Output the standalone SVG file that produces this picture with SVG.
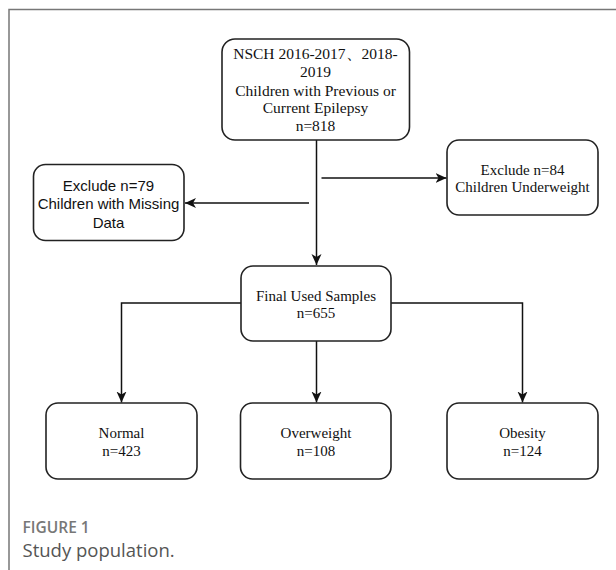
<svg xmlns="http://www.w3.org/2000/svg" width="616" height="570" viewBox="0 0 616 570">
<style>
.box{fill:#fff;stroke:#222;stroke-width:1.6}
.serif{font-family:"Liberation Serif","Times New Roman",serif;font-size:15px;fill:#111;text-anchor:middle}
.sans{font-family:"Liberation Sans",Arial,sans-serif;font-size:15px;fill:#111;text-anchor:middle}
.edge{fill:none;stroke:#111;stroke-width:1.5}
.frame{fill:none;stroke:#777;stroke-width:1.5}
</style>
<defs>
<marker id="arr" markerUnits="userSpaceOnUse" markerWidth="13" markerHeight="11" refX="11" refY="5" orient="auto">
<path d="M0,0 L11,5 L0,10 L3,5 z" fill="#111"/>
</marker>
</defs>
<path class="frame" d="M9,570 L9,9.5 L616,9.5"/>
<g id="connectors">
<line class="edge" x1="316.5" y1="140" x2="316.5" y2="265" marker-end="url(#arr)"/>
<line class="edge" x1="309" y1="203" x2="185" y2="203" marker-end="url(#arr)"/>
<line class="edge" x1="321.5" y1="178" x2="446.5" y2="178" marker-end="url(#arr)"/>
<polyline class="edge" points="241,303 121.5,303 121.5,402.5" marker-end="url(#arr)"/>
<polyline class="edge" points="391,303 522.5,303 522.5,402.5" marker-end="url(#arr)"/>
<line class="edge" x1="316.5" y1="341" x2="316.5" y2="402.5" marker-end="url(#arr)"/>
</g>
<g id="n_source">
<rect class="box" x="222" y="39" width="187.5" height="101" rx="13"/>
<text class="serif" style="font-size:15.5px" x="315.5" y="59">NSCH 2016-2017、2018-</text>
<text class="serif" style="font-size:15.5px" x="315.5" y="77">2019</text>
<text class="serif" style="font-size:15.5px" x="315.5" y="96">Children with Previous or</text>
<text class="serif" style="font-size:15.5px" x="315.5" y="113">Current Epilepsy</text>
<text class="serif" style="font-size:15.5px" x="315.5" y="131">n=818</text>
</g>
<g id="n_missing">
<rect class="box" x="33.5" y="164.5" width="150.5" height="76" rx="12"/>
<text class="sans" x="108.5" y="190.5">Exclude n=79</text>
<text class="sans" x="108.5" y="208.5">Children with Missing</text>
<text class="sans" x="108.5" y="227.5">Data</text>
</g>
<g id="n_underweight">
<rect class="box" x="447" y="140" width="151" height="75" rx="12"/>
<text class="serif" x="522.5" y="175">Exclude n=84</text>
<text class="serif" x="522.5" y="192">Children Underweight</text>
</g>
<g id="n_final">
<rect class="box" x="241" y="266" width="150" height="75" rx="12"/>
<text class="serif" x="316" y="301">Final Used Samples</text>
<text class="serif" x="316" y="318">n=655</text>
</g>
<g id="n_normal">
<rect class="box" x="46" y="403" width="151" height="76" rx="12"/>
<text class="serif" x="121.5" y="438">Normal</text>
<text class="serif" x="121.5" y="456">n=423</text>
</g>
<g id="n_overweight">
<rect class="box" x="240.5" y="403" width="150.5" height="76" rx="12"/>
<text class="serif" x="316" y="438">Overweight</text>
<text class="serif" x="316" y="456">n=108</text>
</g>
<g id="n_obesity">
<rect class="box" x="447" y="403" width="151" height="76" rx="12"/>
<text class="serif" x="522.5" y="438">Obesity</text>
<text class="serif" x="522.5" y="456">n=124</text>
</g>
<g id="caption">
<text x="22.5" y="533" style="font-family:'Open Sans','Noto Sans',sans-serif;font-size:15.5px;font-weight:600;fill:#777">FIGURE 1</text>
<text x="22.5" y="557" style="font-family:'Open Sans','Noto Sans',sans-serif;font-size:18.5px;fill:#555">Study population.</text>
</g>
</svg>
